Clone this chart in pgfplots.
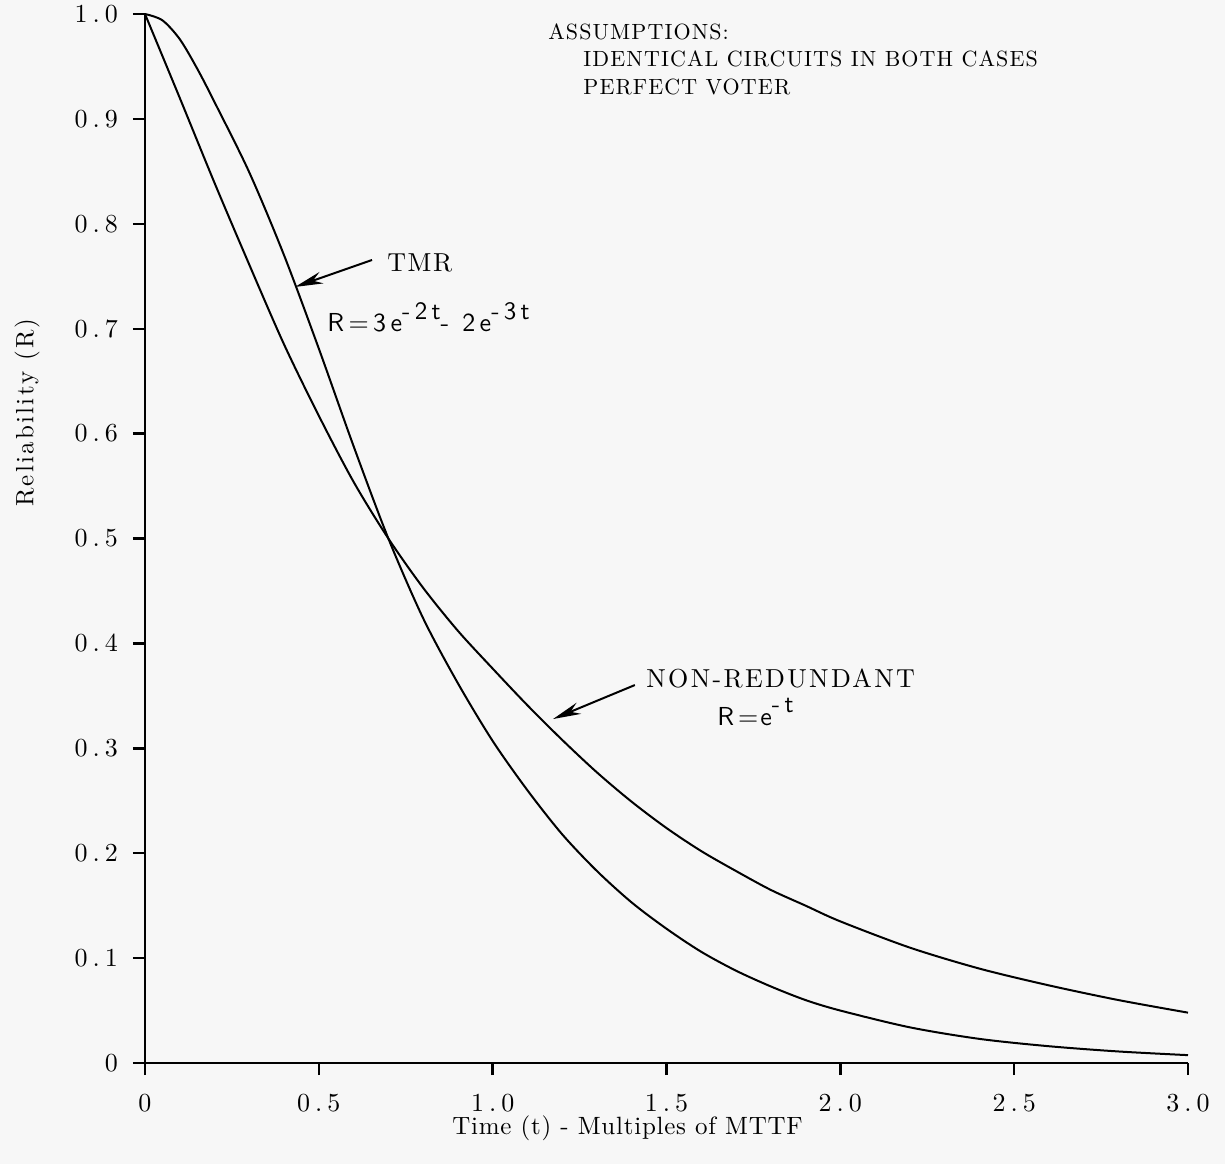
\documentclass[border=0pt]{standalone}
\usepackage{fontspec}
\setmainfont{lmroman10-regular.otf}
\setsansfont{lmsans10-regular.otf}
\usepackage{pgfplots}
\pgfplotsset{compat=1.18}
\usetikzlibrary{arrows.meta,backgrounds}
\definecolor{paper}{RGB}{247,247,247}
\newcommand{\dn}[2]{#1\kern2.5pt.\kern2.5pt#2}
\newcommand{\ls}[1]{\addfontfeature{LetterSpace=#1}}
\newcommand{\hsup}[1]{\raisebox{1.1ex}{\fontsize{12.5}{14}\selectfont #1}}

\pgfplotstableread{
t R
0.0 1.000
0.1 0.920
0.2 0.839
0.3 0.761
0.4 0.685
0.5 0.617
0.6 0.554
0.7 0.500
0.8 0.453
0.9 0.412
1.0 0.376
1.1 0.341
1.2 0.308
1.3 0.277
1.4 0.249
1.5 0.224
1.6 0.202
1.7 0.183
1.8 0.165
1.9 0.150
2.0 0.135
2.2 0.110
2.4 0.090
2.6 0.074
2.8 0.060
3.0 0.048
}\nonred

\pgfplotstableread{
t R
0.0 1.000
0.05 0.994
0.1 0.976
0.15 0.948
0.2 0.916
0.3 0.849
0.4 0.770
0.5 0.681
0.6 0.588
0.7 0.500
0.8 0.424
0.9 0.362
1.0 0.307
1.1 0.260
1.2 0.218
1.3 0.183
1.4 0.153
1.5 0.128
1.6 0.106
1.7 0.088
1.8 0.073
1.9 0.060
2.0 0.050
2.2 0.034
2.4 0.023
2.6 0.016
2.8 0.011
3.0 0.0075
}\tmr

\begin{document}
\begin{tikzpicture}[show background rectangle, background rectangle/.style={fill=paper,draw=none}, inner frame sep=0pt]
\begin{axis}[
  scale only axis, width=521.5pt, height=524.5pt,
  xmin=0, xmax=3, ymin=0, ymax=1,
  axis x line*=bottom, axis y line*=left,
  axis line style={line width=1.25pt, black},
  tick align=outside, major tick length=6pt,
  tick style={line width=1.2pt, black},
  xtick={0,0.5,1,1.5,2,2.5,3},
  xticklabels={0,\dn05,\dn10,\dn15,\dn20,\dn25,\dn30},
  ytick={0,0.1,0.2,0.3,0.4,0.5,0.6,0.7,0.8,0.9,1.0},
  yticklabels={0,\dn01,\dn02,\dn03,\dn04,\dn05,\dn06,\dn07,\dn08,\dn09,\dn10},
  ticklabel style={font=\fontsize{13}{15}\selectfont},
  xticklabel style={yshift=-6pt},
  yticklabel style={xshift=-4pt},
  clip=false,
]
\addplot[black, line width=1pt, smooth, mark=none] table[x=t,y=R] {\nonred};
\addplot[black, line width=1pt, smooth, mark=none] table[x=t,y=R] {\tmr};

\node[anchor=base west, inner sep=0, font=\fontsize{11}{13}\selectfont\ls{5}] at (axis cs:1.159,0.976) {ASSUMPTIONS:};
\node[anchor=base west, inner sep=0, font=\fontsize{11}{13}\selectfont\ls{5}] at (axis cs:1.260,0.9495) {IDENTICAL CIRCUITS IN BOTH CASES};
\node[anchor=base west, inner sep=0, font=\fontsize{11}{13}\selectfont\ls{5}] at (axis cs:1.260,0.9228) {PERFECT VOTER};

\node[anchor=base west, inner sep=0, font=\fontsize{13}{15}\selectfont\ls{6}] at (axis cs:0.696,0.755) {TMR};
\node[anchor=base west, inner sep=0, font=\fontsize{13}{15}\selectfont\sffamily\ls{17}] at (axis cs:0.5235,0.697) {R=3e\hsup{-2t}- 2e\hsup{-3t}};
\draw[black, line width=1pt, -{Stealth[length=14pt,width=6pt]}] (axis cs:0.653,0.7655) -- (axis cs:0.4314,0.7398);

\node[anchor=base west, inner sep=0, font=\fontsize{13}{15}\selectfont\ls{9}] at (axis cs:1.441,0.3575) {NON-REDUNDANT};
\node[anchor=base west, inner sep=0, font=\fontsize{13}{15}\selectfont\sffamily\ls{18}] at (axis cs:1.645,0.322) {R\kern2pt=\kern1pte\hsup{-t}};
\draw[black, line width=1pt, -{Stealth[length=14pt,width=6pt]}] (axis cs:1.409,0.3603) -- (axis cs:1.1735,0.3279);

\node[anchor=base, inner sep=0, font=\fontsize{12.5}{15}\selectfont\ls{3}] at (axis cs:1.388,-0.0686) {Time (t) - Multiples of MTTF};
\node[rotate=90, inner sep=0, font=\fontsize{12.5}{15}\selectfont\ls{9}] at (axis cs:-0.339,0.620) {Reliability (R)};

\coordinate (o) at (axis cs:0,0);
\end{axis}
\pgfresetboundingbox
\path ([shift={(-72.5pt,-50.5pt)}]o) rectangle ([shift={(540pt,531.5pt)}]o);
\end{tikzpicture}
\end{document}
